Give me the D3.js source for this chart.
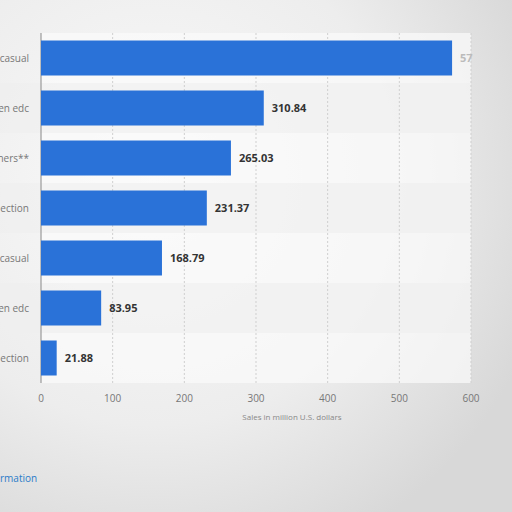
<!DOCTYPE html><html><head><script src="https://cdn.jsdelivr.net/npm/d3@7"></script>
<style>body{margin:0;background:#f2f2f2;overflow:hidden}</style></head><body><svg id="c" width="512" height="512"></svg>
<script>
const categories=["casual","en edc","thers**","ection","casual ","en edc ","ection "];
const values=[573.6,310.84,265.03,231.37,168.79,83.95,21.88];
const valueLabels=["57","310.84","265.03","231.37","168.79","83.95","21.88"];
const ticks=[0,100,200,300,400,500,600];
const svg=d3.select("#c");
const defs=svg.append("defs");
const g0=defs.append("radialGradient").attr("id","bg").attr("cx","30%").attr("cy","35%").attr("r","80%");
g0.append("stop").attr("offset","0%").attr("stop-color","#fafafa");
g0.append("stop").attr("offset","60%").attr("stop-color","#ededed");
g0.append("stop").attr("offset","100%").attr("stop-color","#d8d8d8");
svg.append("rect").attr("width",512).attr("height",512).attr("fill","url(#bg)");
const x=d3.scaleLinear().domain([0,600]).range([41,471]);
const y=d3.scaleBand().domain(categories).range([33,383]).paddingInner(0.3).paddingOuter(0.15);
svg.append("rect").attr("x",41).attr("y",33).attr("width",430).attr("height",350).attr("fill","#fbfbfb").attr("opacity",0.7);
categories.forEach((c,i)=>{if(i%2==1)svg.append("rect").attr("x",0).attr("y",y(c)-y.step()*0.15).attr("width",471).attr("height",y.step()).attr("fill","#eeeeee").attr("opacity",0.6);});
svg.append("g").selectAll("line").data(ticks.slice(1)).join("line").attr("x1",d=>x(d)).attr("x2",d=>x(d)).attr("y1",33).attr("y2",383).attr("stroke","#cfcfcf").attr("stroke-dasharray","2,2");
svg.append("line").attr("x1",41).attr("x2",41).attr("y1",33).attr("y2",383).attr("stroke","#888");
svg.append("g").selectAll("rect").data(values).join("rect").attr("x",x(0)).attr("y",(d,i)=>y(categories[i])).attr("width",d=>x(d)-x(0)).attr("height",y.bandwidth()).attr("fill","#2a72d8");
svg.append("g").selectAll("text").data(values).join("text").attr("x",d=>x(d)+8).attr("y",(d,i)=>y(categories[i])+y.bandwidth()/2+4).text((d,i)=>valueLabels[i]).attr("font-family","Open Sans, sans-serif").attr("font-size",11).attr("font-weight","bold").attr("fill",(d,i)=>i==0?"#bbb":"#333");
svg.append("g").selectAll("text").data(categories).join("text").attr("x",29).attr("y",d=>y(d)+y.bandwidth()/2+4).attr("text-anchor","end").text(d=>d.trim()).attr("font-family","Open Sans, sans-serif").attr("font-size",10).attr("fill","#777");
svg.append("g").selectAll("text").data(ticks).join("text").attr("x",d=>x(d)).attr("y",402).attr("text-anchor","middle").text(d=>d).attr("font-family","Open Sans, sans-serif").attr("font-size",10).attr("fill","#777");
svg.append("text").attr("x",292).attr("y",420).attr("text-anchor","middle").text("Sales in million U.S. dollars").attr("font-family","Open Sans, sans-serif").attr("font-size",8).attr("fill","#888");
svg.append("text").attr("x",0).attr("y",482).text("rmation").attr("font-family","Open Sans, sans-serif").attr("font-size",10).attr("fill","#2a7bc8");
</script></body></html>
